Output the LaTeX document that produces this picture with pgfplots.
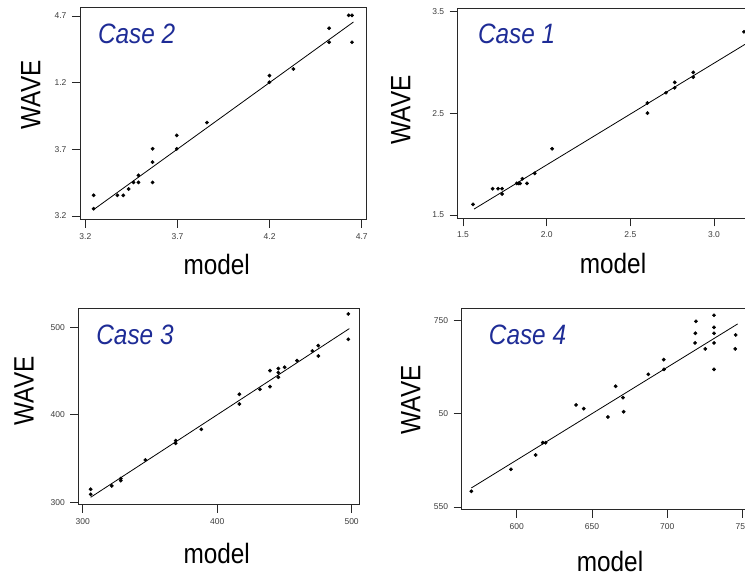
\documentclass[border=0pt]{standalone}
\usepackage{pgfplots}
\pgfplotsset{compat=1.18}
\usepackage{fontspec}
\setmainfont{Liberation Sans}
\definecolor{casecol}{RGB}{30,44,150}
\definecolor{framecol}{RGB}{40,40,40}
\definecolor{tickcol}{RGB}{60,60,60}
\pgfplotsset{
  rpanel/.style={
    scale only axis,
    anchor=north west,
    axis line style={framecol,line width=1pt},
    tick style={framecol,line width=0.8pt},
    tick align=outside,
    major tick length=8pt,
    xtick pos=bottom, ytick pos=left,
    tick label style={font=\fontsize{8.5}{9}\selectfont,text=tickcol},
    /pgf/number format/assume math mode=true,
    xticklabel style={yshift=-2pt},
    yticklabel style={xshift=-2pt},
    clip=false,
  },
  pts/.style={only marks, mark=*, mark size=1.7pt, black},
  fit/.style={black, line width=0.8pt, no marks},
}
\newcommand{\biglab}[1]{\scalebox{0.87}[1]{\fontsize{28}{30}\selectfont #1}}
\newcommand{\caselab}[1]{\textcolor{casecol}{\scalebox{0.87}[1]{\fontsize{28}{30}\selectfont\itshape #1}}}
\begin{document}
\begin{tikzpicture}
\useasboundingbox (0pt,0pt) rectangle (745pt,575pt);
\clip (0pt,0pt) rectangle (745pt,575pt);
% Panel: Case 2 (top-left)
\begin{axis}[rpanel, at={(80pt,567pt)}, width=286pt, height=212pt,
  xmin=3.171, xmax=4.723, ymin=3.17, ymax=4.76,
  xtick={3.2,3.7,4.2,4.7}, xticklabels={3.2,3.7,4.2,4.7},
  ytick={3.2,3.7,4.2,4.7}, yticklabels={3.2,3.7,1.2,4.7}]
\addplot[pts] coordinates {
(3.245,3.355) (3.245,3.255) (3.374,3.355) (3.406,3.355) (3.435,3.402)
(3.461,3.452) (3.488,3.452) (3.488,3.505) (3.565,3.452) (3.565,3.604)
(3.565,3.704) (3.696,3.704) (3.696,3.804) (3.860,3.901) (4.199,4.203)
(4.199,4.253) (4.329,4.303) (4.523,4.503) (4.523,4.608) (4.629,4.705)
(4.647,4.705) (4.647,4.503)};
\addplot[fit] coordinates {(3.252,3.255) (4.655,4.655)};
\end{axis}
% Panel: Case 1 (top-right)
\begin{axis}[rpanel, at={(457.7pt,566pt)}, width=292.3pt, height=209.3pt,
  xmin=1.468, xmax=3.215, ymin=1.468, ymax=3.527,
  xtick={1.5,2.0,2.5,3.0}, xticklabels={1.5,2.0,2.5,3.0},
  ytick={1.5,2.5,3.5}, yticklabels={1.5,2.5,3.5}]
\addplot[pts] coordinates {
(1.560,1.605) (1.677,1.759) (1.709,1.759) (1.733,1.759) (1.733,1.707)
(1.821,1.811) (1.831,1.811) (1.841,1.811) (1.855,1.857) (1.882,1.811)
(1.928,1.910) (2.032,2.152) (2.602,2.602) (2.602,2.503) (2.713,2.703)
(2.765,2.752) (2.765,2.805) (2.876,2.857) (2.876,2.903) (3.179,3.303)};
\addplot[fit] coordinates {(1.566,1.559) (3.185,3.179)};
\end{axis}
% Panel: Case 3 (bottom-left)
\begin{axis}[rpanel, at={(78.3pt,266.7pt)}, width=281pt, height=196.7pt,
  xmin=296.7, xmax=505.7, ymin=296.9, ymax=521.7,
  xtick={300,400,500}, xticklabels={300,400,500},
  ytick={300,400,500}, yticklabels={300,400,500}]
\addplot[pts] coordinates {
(305.9,314.9) (305.9,309.1) (321.6,318.7) (328.3,327.0) (328.3,324.8)
(346.6,348.4) (369.1,370.5) (369.1,367.4) (388.2,383.4) (416.5,423.4)
(416.5,412.4) (431.8,429.1) (439.3,450.5) (439.3,432.2) (445.5,452.8)
(445.5,448.2) (445.5,442.9) (450.2,454.3) (459.4,461.9) (470.8,473.0)
(475.2,479.0) (475.2,467.2) (497.5,515.2) (497.5,486.3)};
\addplot[fit] coordinates {(305.9,305.7) (498.3,498.5)};
\end{axis}
% Panel: Case 4 (bottom-right)
\begin{axis}[rpanel, at={(461.7pt,266pt)}, width=288.3pt, height=201pt,
  xmin=563.5, xmax=754.9, ymin=546.8, ymax=762.1,
  xtick={600,650,700,750}, xticklabels={600,650,700,750},
  ytick={550,650,750}, yticklabels={550,50,750}]
\addplot[pts] coordinates {
(569.9,566.8) (596.2,590.4) (612.6,605.7) (617.3,618.9) (619.2,618.9)
(639.4,659.3) (644.5,655.4) (660.6,646.4) (665.7,679.3) (670.6,667.1)
(671.0,652.1) (687.4,692.1) (697.6,707.9) (697.8,697.5) (718.4,725.7)
(718.6,736.1) (719.0,748.9) (725.2,719.3) (731.0,755.4) (731.0,742.5)
(731.0,736.1) (731.0,725.7) (731.0,697.5) (745.4,734.3) (745.1,719.3)};
\addplot[fit] coordinates {(569.9,570.4) (746.7,746.1)};
\end{axis}
% Axis titles and case labels
\node[rotate=90] at (30.8pt,480pt) {\biglab{WAVE}};
\node at (216.7pt,311pt) {\biglab{model}};
\node[rotate=90] at (400.8pt,465pt) {\biglab{WAVE}};
\node at (613pt,312pt) {\biglab{model}};
\node[rotate=90] at (24pt,184.2pt) {\biglab{WAVE}};
\node at (216.7pt,22pt) {\biglab{model}};
\node[rotate=90] at (410.8pt,175pt) {\biglab{WAVE}};
\node at (610pt,14pt) {\biglab{model}};
\node at (136.7pt,541pt) {\caselab{Case 2}};
\node at (516.7pt,541pt) {\caselab{Case 1}};
\node at (135pt,240pt) {\caselab{Case 3}};
\node at (527.5pt,240pt) {\caselab{Case 4}};
\end{tikzpicture}
\end{document}
